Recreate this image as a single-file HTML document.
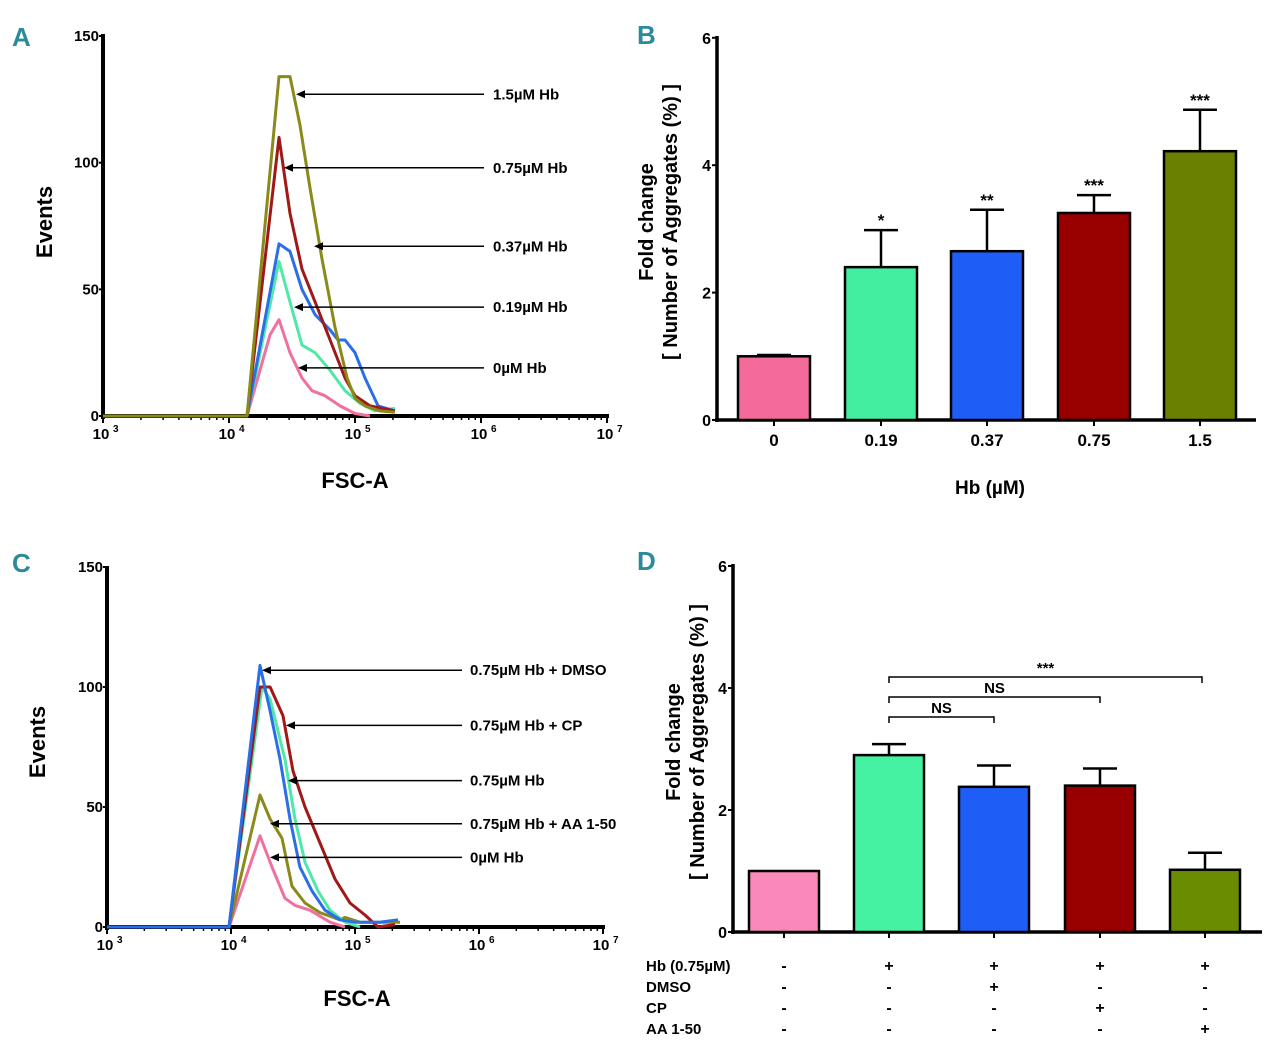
<!DOCTYPE html>
<html><head><meta charset="utf-8"><style>
html,body{margin:0;padding:0;background:#fff}
svg{display:block;font-family:"Liberation Sans Narrow","Liberation Sans",sans-serif;font-weight:bold}
</style></head><body>
<svg id="fig" width="1280" height="1054" viewBox="0 0 1280 1054" xmlns="http://www.w3.org/2000/svg"></svg>
<script>
// ---------- Panel A data ----------
const aLabels = ["1.5µM Hb","0.75µM Hb","0.37µM Hb","0.19µM Hb","0µM Hb"];
const aColors = ["#8a8a1a","#a01818","#2a6ee8","#4fe8a8","#f070a0"];
const aGreenX = [3,4.143,4.397,4.484,4.563,4.643,4.738,4.841,4.937,5.0,5.079,5.198,5.317];
const aGreenY = [0,0,134,134,115,90,62,35,15,7,4,2,1.5];
const aRedX = [3,4.143,4.397,4.484,4.579,4.683,4.802,4.921,5.0,5.119,5.317];
const aRedY = [0,0,110,80,58,45,30,15,8,4,2];
const aBlueX = [3,4.143,4.397,4.484,4.579,4.683,4.802,4.865,4.921,5.0,5.079,5.183,5.317];
const aBlueY = [0,0,68,65,50,40,34,30,30,25,15,4,2];
const aTealX = [3,4.143,4.397,4.484,4.579,4.683,4.802,4.921,5.04,5.159,5.317];
const aTealY = [0,0,61,45,28,25,18,10,5,2,3];
const aPinkX = [3,4.143,4.325,4.397,4.484,4.579,4.659,4.762,4.881,5.0,5.119];
const aPinkY = [0,0,32,38,25,15,10,8,4,1,0];
const aArrowY = [127,98,67,43,19];
const aArrowTip = [296,284,314,294,298];
// ---------- Panel C data ----------
const cLabels = ["0.75µM Hb + DMSO","0.75µM Hb + CP","0.75µM Hb","0.75µM Hb + AA 1-50","0µM Hb"];
const cBlueX=[3,3.984,4.234,4.315,4.395,4.476,4.556,4.653,4.758,4.879,5.0,5.202,5.347];
const cBlueY=[0,0,109,90,70,45,25,15,7,3,2,2,3];
const cTealX=[3,3.984,4.25,4.315,4.435,4.516,4.597,4.702,4.798,4.919,5.04];
const cTealY=[0,0,100,95,70,45,27,15,7,2,0];
const cRedX=[3,3.984,4.234,4.315,4.419,4.5,4.597,4.718,4.839,4.96,5.081,5.185,5.323];
const cRedY=[0,0,100,100,88,65,50,35,20,10,5,0,1];
const cOliveX=[3,3.984,4.234,4.315,4.411,4.492,4.597,4.718,4.879,4.919,5.04,5.363];
const cOliveY=[0,0,55,45,37,17,10,6,3,4,2,2];
const cPinkX=[3,3.984,4.234,4.331,4.435,4.516,4.637,4.798,4.919];
const cPinkY=[0,0,38,25,12,9,7,2,0];
const cArrowY=[107,84,61,43,29];
const cArrowTip=[262,286,288,270,270];
// ---------- Panel B data ----------
const bCats=["0","0.19","0.37","0.75","1.5"];
const bVals=[1.0,2.4,2.65,3.25,4.22];
const bErr=[0.02,0.58,0.65,0.28,0.65];
const bStars=["","*","**","***","***"];
const bColors=["#f46a9a","#44eea0","#1e5ef6","#980000","#6a8000"];
// ---------- Panel D data ----------
const dVals=[1.0,2.9,2.38,2.4,1.02];
const dErr=[0,0.18,0.35,0.28,0.28];
const dColors=["#fb88bb","#44f2a2","#1e5ef6","#980000","#6a8c00"];
const dRows=["Hb (0.75µM)","DMSO","CP","AA 1-50"];
const dSigns=[["-","+","+","+","+"],["-","-","+","-","-"],["-","-","-","+","-"],["-","-","-","-","+"]];

const svg=document.getElementById('fig');
const NS="http://www.w3.org/2000/svg";
function mk(tag,attrs,text){const e=document.createElementNS(NS,tag);for(const k in attrs)e.setAttribute(k,attrs[k]);if(text!==undefined)e.textContent=text;svg.appendChild(e);return e;}

[["A",12,46],["B",637,44],["C",12,572],["D",637,570]].forEach(p=>{
  const t=mk('text',{x:p[1],y:p[2],'font-size':26,fill:'#2b8a9c'},p[0]);
  
  
});

function histPanel(cfg){
  const {x0,pxDec,y0,pxUnit,top,series,arrowY,arrowTip,labels,labelX,arrowEnd,id}=cfg;
  const sx=l=>x0+(l-3)*pxDec, sy=v=>y0-v*pxUnit;
  let a=mk('line',{x1:x0,y1:top,x2:x0,y2:y0+3,stroke:'#000','stroke-width':4});
  
  a=mk('line',{x1:x0,y1:y0,x2:sx(7)+2,y2:y0,stroke:'#000','stroke-width':4});
  
  [0,50,100,150].forEach(v=>{
    mk('line',{x1:x0-4,y1:sy(v),x2:x0,y2:sy(v),stroke:'#000','stroke-width':2});
    const t=mk('text',{x:x0-4,y:sy(v)+5,'font-size':15,'text-anchor':'end'},String(v));
    
  });
  for(let d=3;d<=7;d++){
    mk('line',{x1:sx(d),y1:y0,x2:sx(d),y2:y0+7,stroke:'#000','stroke-width':2});
    if(d<7)for(let m=2;m<10;m++){const xx=sx(d+Math.log10(m));mk('line',{x1:xx,y1:y0,x2:xx,y2:y0+4,stroke:'#000','stroke-width':1.5});}
    const t=mk('text',{x:sx(d)-2,y:y0+23,'font-size':15,'text-anchor':'middle'},'10');
    
    mk('text',{x:sx(d)+10,y:y0+16,'font-size':10},String(d));
  }
  series.forEach((s,i)=>{
    const pts=s.x.map((l,j)=>sx(l).toFixed(1)+','+sy(s.y[j]).toFixed(1)).join(' ');
    const p=mk('polyline',{points:pts,fill:'none',stroke:s.c,'stroke-width':3,'stroke-linejoin':'round'});
    
  });
  labels.forEach((lab,i)=>{
    const y=sy(arrowY[i]);
    const l=mk('line',{x1:arrowTip[i]+6,y1:y,x2:arrowEnd,y2:y,stroke:'#000','stroke-width':1.5});
    
    mk('polygon',{points:`${arrowTip[i]},${y} ${arrowTip[i]+9},${y-4} ${arrowTip[i]+9},${y+4}`,fill:'#000'});
    const t=mk('text',{x:labelX,y:y+5,'font-size':15},lab);
    
  });
  let t=mk('text',{x:cfg.ytx,y:cfg.yty,'font-size':22,'text-anchor':'middle',transform:`rotate(-90 ${cfg.ytx} ${cfg.yty})`},'Events');
  
  t=mk('text',{x:cfg.xtx,y:cfg.xty,'font-size':22,'text-anchor':'middle'},'FSC-A');
  
}

histPanel({id:'panel-a',x0:103,pxDec:126,y0:416,pxUnit:2.533,top:34,
  series:[{x:aPinkX,y:aPinkY,c:aColors[4],n:'0'},{x:aTealX,y:aTealY,c:aColors[3],n:'0-19'},{x:aBlueX,y:aBlueY,c:aColors[2],n:'0-37'},{x:aRedX,y:aRedY,c:aColors[1],n:'0-75'},{x:aGreenX,y:aGreenY,c:aColors[0],n:'1-5'}],
  arrowY:aArrowY,arrowTip:aArrowTip,labels:aLabels,labelX:493,arrowEnd:484,ytx:52,yty:222,xtx:355,xty:488});
histPanel({id:'panel-c',x0:107,pxDec:124,y0:927,pxUnit:2.4,top:566,
  series:[{x:cPinkX,y:cPinkY,c:"#f070a0",n:'0'},{x:cOliveX,y:cOliveY,c:"#8a8a1a",n:'aa'},{x:cTealX,y:cTealY,c:"#4fe8a8",n:'hb'},{x:cRedX,y:cRedY,c:"#a01818",n:'cp'},{x:cBlueX,y:cBlueY,c:"#2a6ee8",n:'dmso'}],
  arrowY:cArrowY,arrowTip:cArrowTip,labels:cLabels,labelX:470,arrowEnd:462,ytx:45,yty:742,xtx:357,xty:1006});

function barPanel(cfg){
  const {id,x0,x1,y0,pxUnit,top,centers,w,vals,err,colors}=cfg;
  const sy=v=>y0-v*pxUnit;
  let a=mk('line',{x1:x0,y1:top,x2:x0,y2:y0+2,stroke:'#000','stroke-width':3.5});
  
  a=mk('line',{x1:x0-2,y1:y0,x2:x1,y2:y0,stroke:'#000','stroke-width':3.5});
  
  [0,2,4,6].forEach(v=>{
    mk('line',{x1:x0-5,y1:sy(v),x2:x0,y2:sy(v),stroke:'#000','stroke-width':2});
    const t=mk('text',{x:x0-6,y:sy(v)+6,'font-size':16,'text-anchor':'end'},String(v));
    
  });
  vals.forEach((v,i)=>{
    const c=centers[i];
    if(err[i]>0){
      mk('line',{x1:c,y1:sy(v),x2:c,y2:sy(v+err[i]),stroke:'#000','stroke-width':2.5});
      mk('line',{x1:c-17,y1:sy(v+err[i]),x2:c+17,y2:sy(v+err[i]),stroke:'#000','stroke-width':2.5});
    }
    const r=mk('rect',{x:c-w/2,y:sy(v),width:w,height:v*pxUnit,fill:colors[i],stroke:'#000','stroke-width':2.5});
    
    mk('line',{x1:c,y1:y0,x2:c,y2:y0+6,stroke:'#000','stroke-width':2});
  });
  return sy;
}
const bCenters=[774,881,987,1094,1200];
const syB=barPanel({id:'panel-b',x0:717,x1:1256,y0:420,pxUnit:63.7,top:36,centers:bCenters,w:72,vals:bVals,err:bErr,colors:bColors});
bCats.forEach((c,i)=>{
  const t=mk('text',{x:bCenters[i],y:446,'font-size':17,'text-anchor':'middle'},c);
  
  if(bStars[i]){const s=mk('text',{x:bCenters[i],y:syB(bVals[i]+bErr[i])-4,'font-size':17,'text-anchor':'middle'},bStars[i]);
    }
});
let tt=mk('text',{x:990,y:494,'font-size':19,'text-anchor':'middle'},'Hb (µM)');

tt=mk('text',{x:653,y:222,'font-size':20,'text-anchor':'middle',transform:'rotate(-90 653 222)'},'Fold change');

tt=mk('text',{x:677,y:222,'font-size':20,'text-anchor':'middle',transform:'rotate(-90 677 222)'},'[ Number of Aggregates (%) ]');


const dCenters=[784,889,994,1100,1205];
const syD=barPanel({id:'panel-d',x0:733,x1:1262,y0:932,pxUnit:61,top:564,centers:dCenters,w:70,vals:dVals,err:dErr,colors:dColors});
[[994,717,'NS'],[1100,697,'NS'],[1202,677,'***']].forEach((b,i)=>{
  const br=mk('polyline',{points:`889,${b[1]+6} 889,${b[1]} ${b[0]},${b[1]} ${b[0]},${b[1]+6}`,fill:'none',stroke:'#000','stroke-width':1.5});
  
  const t=mk('text',{x:(889+b[0])/2,y:b[1]-4,'font-size':15,'text-anchor':'middle'},b[2]);
  
});
dRows.forEach((r,i)=>{
  const y=971+i*21;
  const t=mk('text',{x:646,y:y,'font-size':15},r);
  
  dSigns[i].forEach((s,j)=>{mk('text',{x:dCenters[j],y:y,'font-size':16,'text-anchor':'middle'},s);});
});
tt=mk('text',{x:680,y:742,'font-size':20,'text-anchor':'middle',transform:'rotate(-90 680 742)'},'Fold change');

tt=mk('text',{x:704,y:742,'font-size':20,'text-anchor':'middle',transform:'rotate(-90 704 742)'},'[ Number of Aggregates (%) ]');

</script>
</body></html>
